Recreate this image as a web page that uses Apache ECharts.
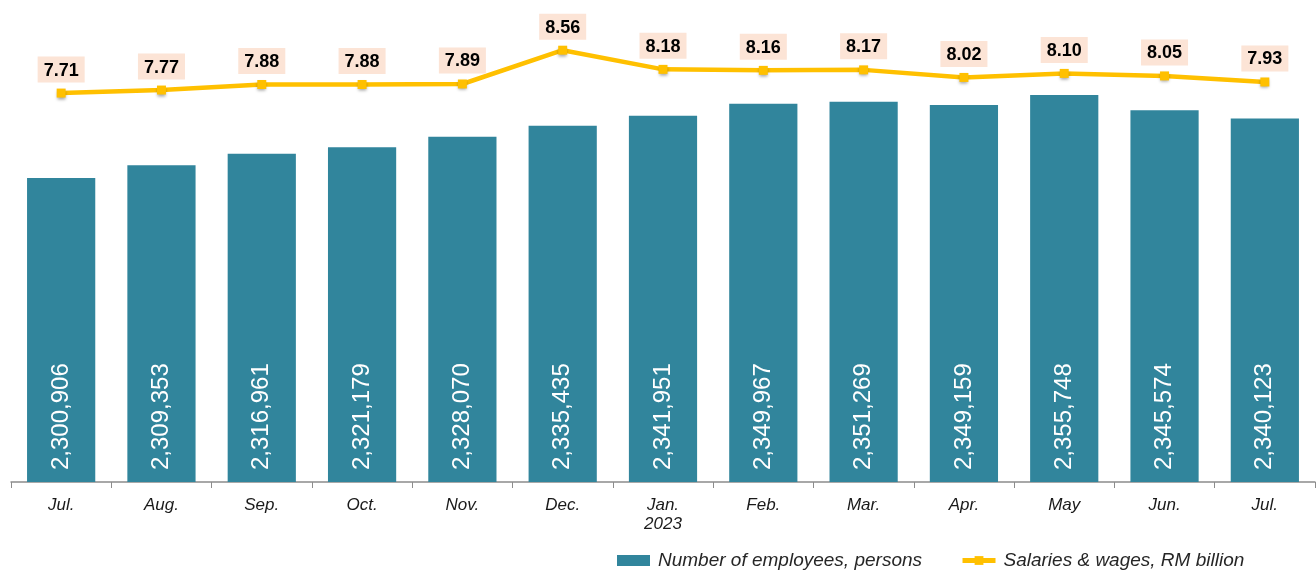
<!DOCTYPE html>
<html>
<head>
<meta charset="utf-8">
<script src="https://cdn.jsdelivr.net/npm/echarts@6/dist/echarts.min.js"></script>
<style>
    html, body { margin: 0; padding: 0; background: #fff; }
    #main { width: 1316px; height: 571px; }
</style>
</head>
<body>
<div id="main"></div>
<script>
    // months Jul 2022 - Jul 2023
    var months = ['Jul.', 'Aug.', 'Sep.', 'Oct.', 'Nov.', 'Dec.', 'Jan.\n2023', 'Feb.', 'Mar.', 'Apr.', 'May', 'Jun.', 'Jul.'];
    var employees = [2300906, 2309353, 2316961, 2321179, 2328070, 2335435, 2341951, 2349967, 2351269, 2349159, 2355748, 2345574, 2340123];
    var salaries = [7.71, 7.77, 7.88, 7.88, 7.89, 8.56, 8.18, 8.16, 8.17, 8.02, 8.10, 8.05, 7.93];

    var myChart = echarts.init(document.getElementById('main'));

    myChart.setOption({
        animation: false,
        textStyle: { fontFamily: 'Liberation Sans, Arial, sans-serif' },
        grid: { left: 11, right: 1, top: 28, bottom: 89, containLabel: false },
        legend: {
            bottom: -4,
            left: 612,
            itemGap: 38,
            itemWidth: 33,
            itemHeight: 11,
            textStyle: { fontSize: 19, fontStyle: 'italic', color: '#262626', padding: [0, 0, 0, 3] },
            data: [
                { name: 'Number of employees, persons', icon: 'rect' },
                { name: 'Salaries & wages, RM billion', lineStyle: { width: 5 } }
            ]
        },
        xAxis: {
            type: 'category',
            data: months,
            axisLine: { lineStyle: { color: '#8c8c8c', width: 1.5 } },
            axisTick: { show: true, length: 6, lineStyle: { color: '#8c8c8c' } },
            axisLabel: {
                fontSize: 17,
                fontStyle: 'italic',
                color: '#1a1a1a',
                margin: 14,
                lineHeight: 19
            }
        },
        yAxis: [
            { type: 'value', min: 2100000, max: 2400000, show: false, splitLine: { show: false } },
            { type: 'value', min: 0, max: 9, show: false, splitLine: { show: false } }
        ],
        series: [
            {
                name: 'Number of employees, persons',
                type: 'bar',
                yAxisIndex: 0,
                data: employees,
                barCategoryGap: '32%',
                itemStyle: { color: '#31859C' },
                label: {
                    show: true,
                    position: 'insideBottom',
                    rotate: 90,
                    align: 'left',
                    verticalAlign: 'middle',
                    distance: 12,
                    color: '#ffffff',
                    fontSize: 24,
                    formatter: function (p) {
                        return p.value.toLocaleString('en-US');
                    }
                }
            },
            {
                name: 'Salaries & wages, RM billion',
                type: 'line',
                yAxisIndex: 1,
                data: salaries,
                symbol: 'rect',
                symbolSize: 9,
                lineStyle: { color: '#FFC000', width: 4.5 },
                itemStyle: {
                    color: '#FFC000',
                    shadowColor: 'rgba(0,0,0,0.35)',
                    shadowBlur: 3,
                    shadowOffsetY: 2
                },
                label: {
                    show: true,
                    position: 'top',
                    distance: 6,
                    color: '#000',
                    fontSize: 18,
                    fontWeight: 'bold',
                    backgroundColor: '#FCE4D6',
                    padding: [5, 6, 3, 6],
                    formatter: function (p) {
                        return p.value.toFixed(2);
                    }
                }
            }
        ]
    });
</script>
</body>
</html>
